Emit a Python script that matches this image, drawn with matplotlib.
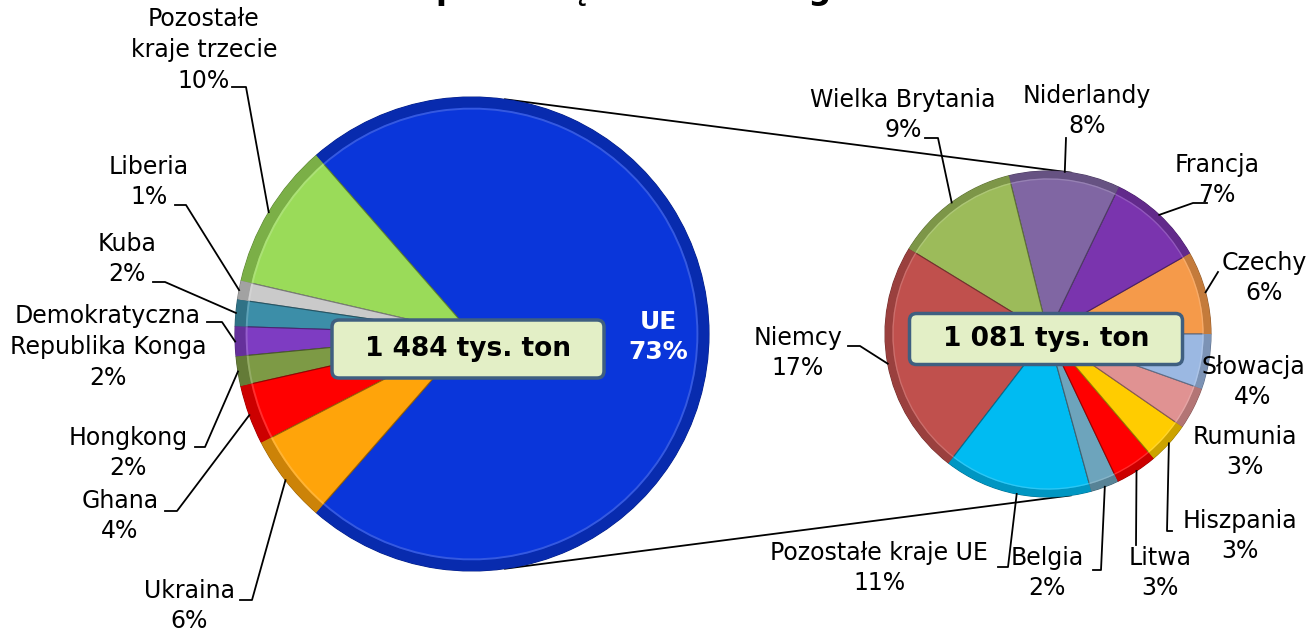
import numpy as np
import matplotlib.pyplot as plt
from matplotlib.colors import to_rgb
from matplotlib.patches import FancyBboxPatch

plt.rcParams['font.family'] = ['DejaVu Sans']

title = "Eksport mięsa drobiowego"

# eksport ogółem, tys. ton
world_labels = ["UE", "Pozostałe\nkraje trzecie", "Liberia", "Kuba",
                "Demokratyczna\nRepublika Konga", "Hongkong", "Ghana", "Ukraina"]
world_values = [1081, 148, 19, 27, 30, 30, 60, 89]
world_colors = ["#0A36DA", "#9ADB59", "#CACACA", "#3C8EA8", "#7E3CC2",
                "#7D9A45", "#FF0000", "#FFA40A"]

# eksport do UE, tys. ton
eu_labels = ["Czechy", "Francja", "Niderlandy", "Wielka Brytania", "Niemcy",
             "Pozostałe kraje UE", "Belgia", "Litwa", "Hiszpania", "Rumunia", "Słowacja"]
eu_values = [89, 104, 119, 134, 252, 159, 30, 45, 45, 45, 59]
eu_colors = ["#F59A4A", "#7A34AE", "#8066A3", "#9CBB5A", "#C0504D", "#00BBF2",
             "#6DA4BC", "#FF0000", "#FFCC00", "#E09292", "#9BB8E2"]

W, H = 1311, 630
total = sum(world_values)


def shade(c, f):
    return tuple(np.array(to_rgb(c)) * f)


def tint(c, f):
    r = np.array(to_rgb(c))
    return tuple(r + (1 - r) * f)


def pct(v):
    return "%d%%" % round(100.0 * v / total)


def draw_pie(values, colors, cx, cy, r, start):
    c = (cx, H - cy)
    wedges, _ = ax.pie(values, colors=colors, center=c, radius=r, startangle=start,
                       counterclock=True, wedgeprops=dict(linewidth=0.8))
    for w, col in zip(wedges, colors):
        w.set_edgecolor(shade(col, 0.6))
    # bevel rim
    ax.pie(values, colors=[shade(col, 0.8) for col in colors], center=c, radius=r,
           startangle=start, counterclock=True,
           wedgeprops=dict(width=r * 0.045, linewidth=0))
    ax.pie(values, colors=[tint(col, 0.3) for col in colors], center=c, radius=r * 0.955,
           startangle=start, counterclock=True,
           wedgeprops=dict(width=r * 0.008, linewidth=0, alpha=0.6))
    return wedges


def anchor(w, cx, cy, r):
    a = np.deg2rad((w.theta1 + w.theta2) / 2)
    return cx + r * np.cos(a), H - cy + r * np.sin(a)


def label(w, text, pos, leader, cx, cy, r):
    ax.text(pos[0], H - pos[1], text, ha="center", va="center", fontsize=17,
            linespacing=1.36, zorder=10)
    if leader:
        ax_, ay_ = anchor(w, cx, cy, r)
        xs = [p[0] for p in leader] + [ax_]
        ys = [H - p[1] for p in leader] + [ay_]
        ax.plot(xs, ys, color="black", lw=1.3, zorder=9)


fig = plt.figure(figsize=(W / 100, H / 100), dpi=100)
ax = fig.add_axes([0, 0, 1, 1])

# left pie: all destinations
lcx, lcy, lr = 472, 334, 237
start_l = -180.0 * world_values[0] / total
lw = draw_pie(world_values, world_colors, lcx, lcy, lr, start_l)

# right pie: EU breakdown
rcx, rcy, rr = 1048, 334, 163
rw = draw_pie(eu_values, eu_colors, rcx, rcy, rr, 0)

# connector lines
a = np.deg2rad(82)
for s in (1, -1):
    ax.plot([lcx + lr * np.cos(a), rcx + rr * np.cos(a)],
            [H - lcy + s * lr * np.sin(a), H - rcy + s * rr * np.sin(a)],
            color="black", lw=1.3, zorder=0)

world_layout = [
    None,
    ((204, 50), [(232, 87), (246, 87)]),
    ((149, 182), [(175, 205), (186, 205)]),
    ((127, 259), [(153, 282), (165, 282)]),
    ((108, 347), [(207, 322), (222, 322)]),
    ((128, 453), [(195, 447), (205, 447)]),
    ((120, 516), [(165, 511), (177, 511)]),
    ((189, 606), [(240, 600), (252, 600)]),
]
for w, name, v, lay in zip(lw, world_labels, world_values, world_layout):
    if lay is None:
        ax.text(658, H - 337, name + "\n" + pct(v), ha="center", va="center",
                fontsize=18, fontweight="bold", color="white", linespacing=1.3, zorder=10)
        continue
    label(w, name + "\n" + pct(v), lay[0], lay[1], lcx, lcy, lr)

eu_layout = [
    ((1264, 278), [(1218, 272)]),
    ((1217, 180), [(1207, 203), (1193, 203)]),
    ((1087, 111), [(1066, 138)]),
    ((903, 115), [(925, 138), (938, 138)]),
    ((798, 353), [(848, 346), (860, 346)]),
    ((879, 568), [(998, 567), (1008, 567)]),
    ((1047, 573), [(1093, 570), (1101, 570)]),
    ((1160, 573), [(1136, 545)]),
    ((1240, 536), [(1172, 531), (1167, 531)]),
    ((1245, 452), None),
    ((1253, 382), None),
]
for w, name, v, lay in zip(rw, eu_labels, eu_values, eu_layout):
    label(w, name + "\n" + pct(v), lay[0], lay[1], rcx, rcy, rr)


def box(cx, cy, bw, bh, value):
    p = FancyBboxPatch((cx - bw / 2, H - cy - bh / 2), bw, bh,
                       boxstyle="round,pad=0,rounding_size=7",
                       facecolor="#E3EFC6", edgecolor="#3F5F80", lw=2.5, zorder=11)
    ax.add_patch(p)
    ax.text(cx, H - cy, "{:,}".format(value).replace(",", " ") + " tys. ton",
            ha="center", va="center", fontsize=19, fontweight="bold", zorder=12)


box(468, 349, 272, 58, total)
box(1046, 339, 273, 51, world_values[0])

ax.text(374, H + 1, title, ha="left", va="baseline", fontsize=23, fontweight="bold")

ax.set_xlim(0, W)
ax.set_ylim(0, H)
ax.set_aspect("auto")
ax.axis("off")

fig.savefig("out.png", dpi=100)
